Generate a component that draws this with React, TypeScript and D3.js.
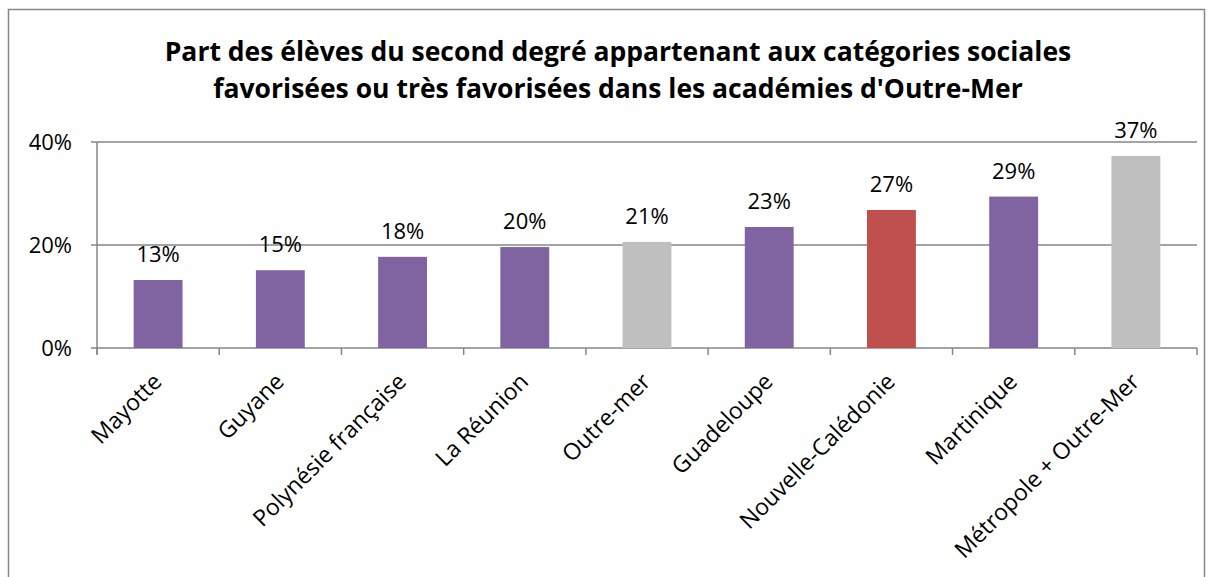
import React, { useRef, useEffect } from "react";
import * as d3 from "d3";

const categories = [
  "Mayotte",
  "Guyane",
  "Polynésie française",
  "La Réunion",
  "Outre-mer",
  "Guadeloupe",
  "Nouvelle-Calédonie",
  "Martinique",
  "Métropole + Outre-Mer",
];
const values = [13.2, 15.1, 17.7, 19.6, 20.6, 23.5, 26.8, 29.4, 37.3];
const valueLabels = ["13%", "15%", "18%", "20%", "21%", "23%", "27%", "29%", "37%"];
const barColors = [
  "#8064A2",
  "#8064A2",
  "#8064A2",
  "#8064A2",
  "#BFBFBF",
  "#8064A2",
  "#C0504D",
  "#8064A2",
  "#BFBFBF",
];
const yTicks = [0, 20, 40];
const titleLines = [
  "Part des élèves du second degré appartenant aux catégories sociales",
  "favorisées ou très favorisées dans les académies d'Outre-Mer",
];

const FONT = "'Open Sans', sans-serif";

const App = () => {
  const ref = useRef(null);

  useEffect(() => {
    const svg = d3.select(ref.current);
    svg.selectAll("*").remove();

    const width = 1211;
    const height = 577;
    const left = 97;
    const right = 1197;
    const top = 142;
    const bottom = 348;

    svg.attr("width", width).attr("height", height);

    // chart frame
    svg.append("rect")
      .attr("x", 8.5)
      .attr("y", 9.5)
      .attr("width", 1196)
      .attr("height", 600)
      .attr("fill", "white")
      .attr("stroke", "#868686")
      .attr("stroke-width", 1.5);

    svg.append("g")
      .selectAll("text")
      .data(titleLines)
      .enter()
      .append("text")
      .attr("x", 618)
      .attr("y", (d, i) => 61 + i * 37)
      .attr("text-anchor", "middle")
      .attr("font-family", FONT)
      .attr("font-size", "26.5px")
      .attr("font-weight", "bold")
      .attr("fill", "#000")
      .text((d) => d);

    const x = d3.scaleBand()
      .domain(categories)
      .range([left, right])
      .paddingInner(0.6)
      .paddingOuter(0.3);

    const y = d3.scaleLinear()
      .domain([0, 40])
      .range([bottom, top]);

    // gridlines
    svg.append("g")
      .selectAll("line")
      .data(yTicks)
      .enter()
      .append("line")
      .attr("x1", left - 6)
      .attr("x2", right)
      .attr("y1", (d) => y(d))
      .attr("y2", (d) => y(d))
      .attr("stroke", "#868686")
      .attr("stroke-width", 1.5);

    // y axis line
    svg.append("line")
      .attr("x1", left)
      .attr("x2", left)
      .attr("y1", top)
      .attr("y2", bottom + 6)
      .attr("stroke", "#868686")
      .attr("stroke-width", 1.5);

    // y labels
    svg.append("g")
      .selectAll("text")
      .data(yTicks)
      .enter()
      .append("text")
      .attr("x", 72)
      .attr("y", (d) => y(d))
      .attr("dy", "0.36em")
      .attr("text-anchor", "end")
      .attr("font-family", FONT)
      .attr("font-size", "22px")
      .attr("fill", "#000")
      .text((d) => `${d}%`);

    // x ticks between categories
    const tickPos = d3.range(categories.length + 1).map((i) => left + i * ((right - left) / categories.length));
    svg.append("g")
      .selectAll("line")
      .data(tickPos)
      .enter()
      .append("line")
      .attr("x1", (d) => d)
      .attr("x2", (d) => d)
      .attr("y1", bottom)
      .attr("y2", bottom + 7)
      .attr("stroke", "#868686")
      .attr("stroke-width", 1.5);

    // bars
    svg.append("g")
      .selectAll("rect")
      .data(values)
      .enter()
      .append("rect")
      .attr("x", (d, i) => x(categories[i]))
      .attr("y", (d) => y(d))
      .attr("width", x.bandwidth())
      .attr("height", (d) => bottom - y(d))
      .attr("fill", (d, i) => barColors[i]);

    // value labels
    svg.append("g")
      .selectAll("text")
      .data(values)
      .enter()
      .append("text")
      .attr("x", (d, i) => x(categories[i]) + x.bandwidth() / 2)
      .attr("y", (d) => y(d) - 18)
      .attr("text-anchor", "middle")
      .attr("font-family", FONT)
      .attr("font-size", "22px")
      .attr("fill", "#000")
      .text((d, i) => valueLabels[i]);

    // category labels
    svg.append("g")
      .selectAll("text")
      .data(categories)
      .enter()
      .append("text")
      .attr("transform", (d) => `translate(${x(d) + x.bandwidth() / 2 + 5}, ${bottom + 35}) rotate(-45)`)
      .attr("text-anchor", "end")
      .attr("font-family", FONT)
      .attr("font-size", "23px")
      .attr("fill", "#000")
      .text((d) => d);
  }, []);

  return (
    <svg ref={ref} style={{ position: "absolute", left: 0, top: 0 }}></svg>
  );
};

export default App;
